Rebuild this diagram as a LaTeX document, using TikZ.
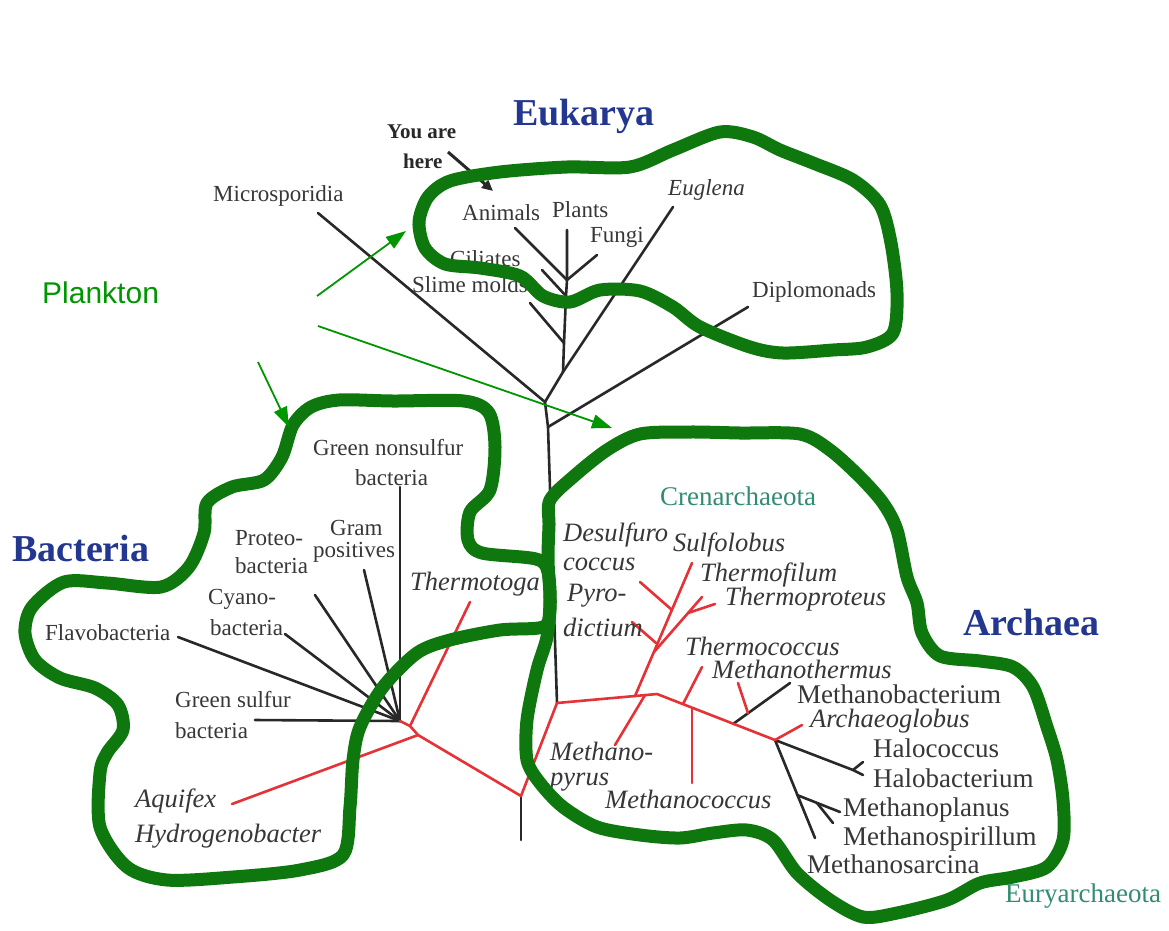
\documentclass[tikz,border=0pt]{standalone}
\usepackage{fontspec}
\setmainfont{Liberation Serif}
\newfontfamily\planktonfont{Liberation Sans}
\usetikzlibrary{arrows.meta}
\definecolor{blobgreen}{RGB}{14,120,14}
\definecolor{arrgreen}{RGB}{0,150,0}
\definecolor{treered}{RGB}{230,50,55}
\definecolor{treeblack}{RGB}{40,40,40}
\definecolor{titleblue}{RGB}{35,55,145}
\definecolor{tealc}{RGB}{50,140,115}
\definecolor{labgray}{RGB}{55,55,55}
\tikzset{
 blk/.style={draw=treeblack,line width=2.6pt,line cap=round,line join=round},
 rd/.style={draw=treered,line width=2.6pt,line cap=round,line join=round},
 blob/.style={draw=blobgreen,line width=13pt,line join=round},
 garrow/.style={draw=arrgreen,line width=1.8pt,-{Triangle[length=20pt,width=14pt]}},
 yaharrow/.style={draw=treeblack,line width=3pt,-{Triangle[length=11pt,width=10pt]}},
 lab/.style={anchor=base west,inner sep=0pt,text=labgray,font=\fontsize{23}{26}\selectfont},
 labA/.style={anchor=base west,inner sep=0pt,text=labgray,font=\fontsize{27}{30}\selectfont},
 ital/.style={anchor=base west,inner sep=0pt,text=labgray,font=\fontsize{26.5}{29}\selectfont\itshape},
 itsm/.style={anchor=base west,inner sep=0pt,text=labgray,font=\fontsize{23}{26}\selectfont\itshape},
 ttl/.style={anchor=base west,inner sep=0pt,text=titleblue,font=\fontsize{38}{42}\selectfont\bfseries},
 grp/.style={anchor=base west,inner sep=0pt,text=tealc,font=\fontsize{27}{30}\selectfont},
 yah/.style={anchor=base west,inner sep=0pt,text=treeblack,font=\fontsize{21}{24}\selectfont\bfseries},
}
\begin{document}
\begin{tikzpicture}[x=1pt,y=-1pt]
\useasboundingbox[fill=white] (0,0) rectangle (1169,930);

% ---------- Eukarya tree coordinates
\coordinate (mic) at (318,213);
\coordinate (jE) at (545,402);
\coordinate (j2) at (563,372);
\coordinate (eug) at (673,207);
\coordinate (j3) at (564,343);
\coordinate (slm) at (530,303);
\coordinate (j4) at (566,296);
\coordinate (cil) at (542,270);
\coordinate (j5) at (567,280);
\coordinate (ani) at (515,228);
\coordinate (pla) at (567,230);
\coordinate (fun) at (597,255);
\coordinate (jD) at (548,427);
\coordinate (dip) at (748,307);
\coordinate (jA) at (557,703);
\coordinate (root) at (521,796);
\coordinate (rootend) at (521,840);
% ---------- Bacteria
\coordinate (jB) at (418,735);
\coordinate (jB2) at (410,726);
\coordinate (fan) at (400,721);
\coordinate (thm) at (470,602);
\coordinate (aqu) at (232,804);
\coordinate (gns) at (400,487);
\coordinate (gpo) at (364,570);
\coordinate (pro) at (315,595);
\coordinate (cya) at (285,634);
\coordinate (fla) at (178,637);
\coordinate (gsu) at (255,720);
% ---------- Archaea
\coordinate (cb) at (635,696);
\coordinate (ct) at (692,563);
\coordinate (a2) at (657,694);
\coordinate (jPy) at (656,643);
\coordinate (pyd) at (632,622);
\coordinate (jTf) at (654,652);
\coordinate (tfl) at (702,597);
\coordinate (jTp) at (688,613);
\coordinate (tpr) at (715,604);
\coordinate (jDs) at (672,610);
\coordinate (dsf) at (640,582);
\coordinate (jMp) at (645,695);
\coordinate (mpy) at (615,745);
\coordinate (jH) at (775,740);
\coordinate (jTc) at (683,704);
\coordinate (tco) at (702,667);
\coordinate (jMc) at (692,708);
\coordinate (mco) at (692,783);
\coordinate (jMb) at (733,724);
\coordinate (mba) at (790,683);
\coordinate (mth) at (738,683);
\coordinate (jMt) at (748,713);
\coordinate (arc) at (802,725);
\coordinate (jHa) at (853,770);
\coordinate (hc) at (863,762);
\coordinate (hb) at (863,775);
\coordinate (msa) at (815,838);
\coordinate (jM1) at (797,795);
\coordinate (mpl) at (840,812);
\coordinate (jM2) at (817,803);
\coordinate (msp) at (833,823);

% ---------- black branches
\draw[blk] (mic) -- (jE);
\draw[blk] (jE) -- (j2) -- (j3) -- (j4) -- (j5) -- (pla);
\draw[blk] (eug) -- (j2);
\draw[blk] (slm) -- (j3);
\draw[blk] (cil) -- (j4);
\draw[blk] (ani) -- (j5);
\draw[blk] (fun) -- (j5);
\draw[blk] (jE) -- (jD) -- (jA);
\draw[blk] (dip) -- (jD);
\draw[blk] (root) -- (rootend);
\foreach \e in {gns,gpo,pro,cya,fla,gsu} \draw[blk] (\e) -- (fan);
\draw[blk] (jMb) -- (mba);
\draw[blk] (jH) -- (jHa) -- (hc);
\draw[blk] (jHa) -- (hb);
\draw[blk] (jH) -- (msa);
\draw[blk] (jM1) -- (mpl);
\draw[blk] (jM2) -- (msp);

% ---------- red branches
\draw[rd] (jA) -- (root) -- (jB) -- (aqu);
\draw[rd] (jB) -- (jB2) -- (thm);
\draw[rd] (jB2) -- (fan);
\draw[rd] (jA) -- (cb) -- (a2) -- (jH);
\draw[rd] (cb) -- (ct);
\draw[rd] (pyd) -- (jPy);
\draw[rd] (jTf) -- (tfl);
\draw[rd] (jTp) -- (tpr);
\draw[rd] (dsf) -- (jDs);
\draw[rd] (jMp) -- (mpy);
\draw[rd] (jTc) -- (tco);
\draw[rd] (jMc) -- (mco);
\draw[rd] (mth) -- (jMt);
\draw[rd] (jH) -- (arc);

% ---------- Eukarya labels
\node[ttl] (eukT) at (513,125) {Eukarya};
\node[yah] (yah1) at (387,138) {You are};
\node[yah] (yah2) at (403,168) {here};
\coordinate (yahA) at (448,152);
\coordinate (yahB) at (493,191);
\draw[yaharrow] (yahA) -- (yahB);
\node[lab] (micL) at (213,201) {Microsporidia};
\node[lab] (aniL) at (462,220) {Animals};
\node[lab] (plaL) at (552,217) {Plants};
\node[lab] (funL) at (590,242) {Fungi};
\node[lab] (cilL) at (450,266) {Ciliates};
\node[lab] (slmL) at (412,292) {Slime molds};
\node[itsm] (eugL) at (668,195) {Euglena};
\node[lab] (dipL) at (752,297) {Diplomonads};

% ---------- Bacteria labels
\node[ttl] (bacT) at (12,561) {Bacteria};
\node[lab] (gnsL1) at (313,455) {Green nonsulfur};
\node[lab] (gnsL2) at (355,485) {bacteria};
\node[lab] (gpoL1) at (330,535) {Gram};
\node[lab] (gpoL2) at (313,557) {positives};
\node[lab] (proL1) at (235,545) {Proteo-};
\node[lab] (proL2) at (235,573) {bacteria};
\node[lab] (cyaL1) at (208,604) {Cyano-};
\node[lab] (cyaL2) at (210,635) {bacteria};
\node[lab] (flaL) at (45,640) {Flavobacteria};
\node[lab] (gsuL1) at (175,707) {Green sulfur};
\node[lab] (gsuL2) at (175,738) {bacteria};
\node[ital] (thmL) at (410,590) {Thermotoga};
\node[ital] (aquL) at (135,807) {Aquifex};
\node[ital] (hydL) at (135,842) {Hydrogenobacter};

% ---------- Archaea labels
\node[ttl] (arcT) at (963,635) {Archaea};
\node[grp] (creL) at (660,505) {Crenarchaeota};
\node[ital] (dsfL1) at (563,541) {Desulfuro};
\node[ital] (dsfL2) at (563,570) {coccus};
\node[ital] (pydL1) at (567,601) {Pyro-};
\node[ital] (pydL2) at (563,636) {dictium};
\node[ital] (sulL) at (673,551) {Sulfolobus};
\node[ital] (tflL) at (700,581) {Thermofilum};
\node[ital] (tprL) at (725,605) {Thermoproteus};
\node[ital] (tcoL) at (685,655) {Thermococcus};
\node[ital] (mthL) at (712,678) {Methanothermus};
\node[labA] (mbaL) at (797,703) {Methanobacterium};
\node[ital] (arcL) at (810,727) {Archaeoglobus};
\node[labA] (hcL) at (873,757) {Halococcus};
\node[labA] (hbL) at (873,787) {Halobacterium};
\node[labA] (mplL) at (843,816) {Methanoplanus};
\node[labA] (mspL) at (843,845) {Methanospirillum};
\node[labA] (msaL) at (807,873) {Methanosarcina};
\node[grp] (eurL) at (1005,902) {Euryarchaeota};
\node[ital] (mpyL1) at (550,760) {Methano-};
\node[ital] (mpyL2) at (550,785) {pyrus};
\node[ital] (mcoL) at (605,808) {Methanococcus};

% ---------- green outlines
\draw[blob] plot[smooth cycle] coordinates {
 (419,222) (428,197) (450,181) (500,172) (567,167) (630,167) (673,150)
 (720,132) (753,137) (780,150) (813,163) (853,180) (880,205) (891,243)
 (897,293) (893,333) (867,347) (833,350) (783,353) (750,347) (700,327)
 (673,307) (640,291) (600,290) (570,302) (543,296) (520,276) (480,268)
 (445,264) (425,248)};
\draw[blob] plot[smooth cycle] coordinates {
 (293,425) (311,407) (339,400) (393,401) (464,401) (489,413) (495,447)
 (490,490) (470,512) (468,540) (482,553) (536,559) (548,572) (550,610)
 (543,627) (500,630) (450,640) (417,653) (383,687) (360,727) (353,760)
 (350,807) (343,855) (300,870) (233,877) (167,880) (127,867) (100,827)
 (100,773) (107,753) (123,730) (118,705) (95,688) (60,678) (35,660)
 (25,633) (32,607) (64,582) (107,583) (161,587) (189,567) (204,533)
 (207,503) (232,487) (264,480) (282,457)};
\draw[blob] plot[smooth cycle] coordinates {
 (550,500) (573,477) (607,450) (640,434) (690,432) (740,433) (800,434)
 (830,450) (860,477) (883,503) (897,530) (907,577) (917,603) (922,633)
 (940,656) (980,661) (1013,667) (1033,687) (1047,727) (1057,760)
 (1063,800) (1063,840) (1047,867) (1013,877) (980,883) (947,900)
 (897,913) (863,917) (830,900) (797,873) (773,840) (747,830) (713,833)
 (680,838) (640,835) (597,827) (563,807) (540,783) (527,760) (527,720)
 (537,670) (547,637) (550,600) (548,560) (549,525)};

% ---------- Plankton
\node[anchor=base west,inner sep=0pt,text=arrgreen,font=\fontsize{30}{33}\selectfont\planktonfont] (plk) at (42,303) {Plankton};
\coordinate (p1s) at (317,296);
\coordinate (p1e) at (406,231);
\coordinate (p2s) at (318,326);
\coordinate (p2e) at (612,428);
\coordinate (p3s) at (258,362);
\coordinate (p3e) at (289,427);
\draw[garrow] (p1s) -- (p1e);
\draw[garrow] (p2s) -- (p2e);
\draw[garrow] (p3s) -- (p3e);
\end{tikzpicture}
\end{document}
